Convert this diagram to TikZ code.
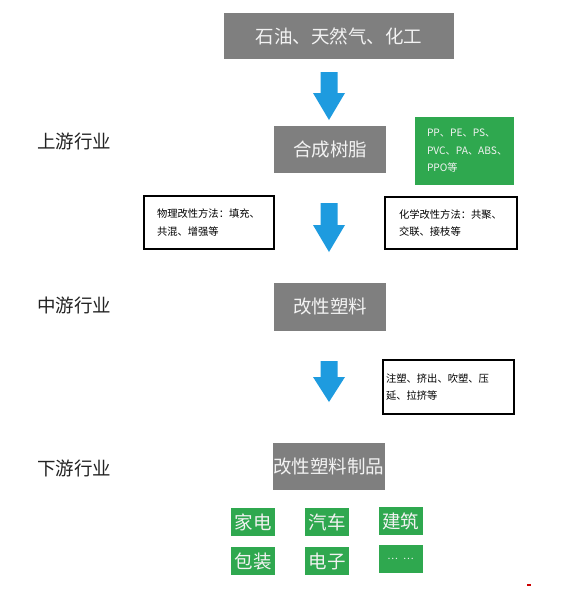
\documentclass[tikz,border=0pt]{standalone}
\usepackage{fontspec}
\setmainfont{Noto Sans CJK SC}
\definecolor{boxgray}{HTML}{7F7F7F}
\definecolor{boxgreen}{HTML}{2FA84F}
\definecolor{arrowblue}{HTML}{1E9BDF}
\definecolor{lighttext}{HTML}{F2F2F2}
\definecolor{labeltext}{HTML}{222222}
\tikzset{
  graybox/.style={fill=boxgray, text=lighttext, inner sep=0pt, font=\fontsize{18.5}{22}\selectfont},
  greenbox/.style={fill=boxgreen, text=lighttext, inner sep=0pt, minimum width=44pt, minimum height=28pt, font=\fontsize{18.5}{22}\selectfont},
  notebox/.style={draw=black, line width=1.6pt, fill=white, align=left, inner ysep=0pt, font=\fontsize{10.3}{17.5}\selectfont},
  levellabel/.style={text=labeltext, inner sep=0pt, font=\fontsize{18.5}{22}\selectfont},
  bluearrow/.style={fill=arrowblue}
}
\newcommand{\blockarrow}[4]{% x, top, headstart, tip
  \fill[bluearrow] (#1-8.5,#2) -- (#1+8.5,#2) -- (#1+8.5,#3) -- (#1+16,#3) -- (#1,#4) -- (#1-16,#3) -- (#1-8.5,#3) -- cycle;}
\begin{document}
\begin{tikzpicture}[x=1pt,y=-1pt]
\useasboundingbox (0,0) rectangle (567,590);
% level labels
\node[levellabel, anchor=west] (up) at (37,141) {上游行业};
\node[levellabel, anchor=west] (mid) at (37,305) {中游行业};
\node[levellabel, anchor=west] (down) at (37,468) {下游行业};
% main chain
\node[graybox, minimum width=230pt, minimum height=46pt] (raw) at (339,36) {石油、天然气、化工};
\node[graybox, minimum width=112pt, minimum height=47pt] (resin) at (330,149.5) {合成树脂};
\node[graybox, minimum width=112pt, minimum height=48pt] (mod) at (330,307) {改性塑料};
\node[graybox, minimum width=112pt, minimum height=47pt] (prod) at (328.5,466.5) {改性塑料制品};
% arrows
\blockarrow{329}{72}{93}{120}
\blockarrow{329}{203}{225}{252}
\blockarrow{329}{361}{377}{402}
% side boxes
\node[fill=boxgreen, text=lighttext, align=left, inner xsep=12pt, inner ysep=0pt, text width=75pt, minimum height=68pt, font=\fontsize{10.2}{17.5}\selectfont] (resins) at (464.5,151) {PP、PE、PS、\\PVC、PA、ABS、\\PPO等};
\node[notebox, inner xsep=13pt, text width=104pt, minimum height=53pt] (phys) at (209,222.5) {物理改性方法：填充、\\共混、增强等};
\node[notebox, inner xsep=14pt, text width=104pt, minimum height=52pt] (chem) at (451,223) {化学改性方法：共聚、\\交联、接枝等};
\node[notebox, inner xsep=3pt, text width=125pt, minimum height=54pt] (proc) at (448.5,387) {注塑、挤出、吹塑、压\\延、拉挤等};
% products
\node[greenbox] (p1) at (253,522) {家电};
\node[greenbox] (p2) at (327,522) {汽车};
\node[greenbox] (p3) at (400.5,521) {建筑};
\node[greenbox] (p4) at (253,561) {包装};
\node[greenbox] (p5) at (327,561) {电子};
\node[greenbox, font=\fontsize{10}{12}\selectfont] (p6) at (400.5,559) {…\hspace{5pt}…};
% small red mark
\fill[red!80!black] (527,583.5) rectangle (531,585.5);
\end{tikzpicture}
\end{document}
